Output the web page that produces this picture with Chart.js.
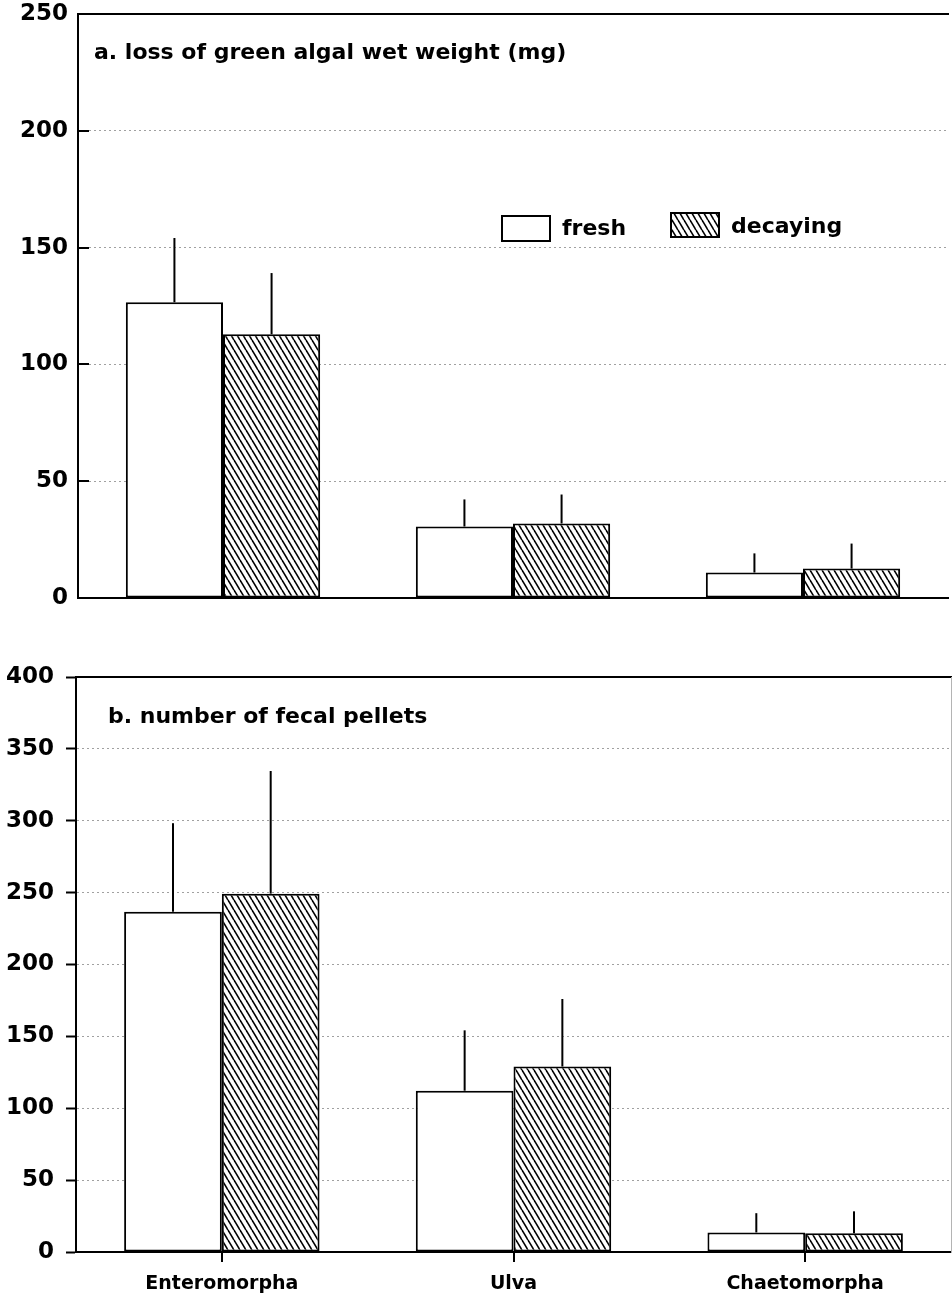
<!DOCTYPE html>
<html>
<head>
<meta charset="utf-8">
<title>Green algae: fresh vs decaying</title>
<script src="https://cdn.jsdelivr.net/npm/chart.js@4.4.0/dist/chart.umd.min.js"></script>
<style>
  html, body { margin: 0; padding: 0; background: #fff; }
  canvas { display: block; }
</style>
</head>
<body>
<canvas id="chartA" width="952" height="640"></canvas>
<canvas id="chartB" width="952" height="661"></canvas>
<script>
// === Data ===
const algae = ['Enteromorpha', 'Ulva', 'Chaetomorpha'];
const seriesNames = ['fresh', 'decaying'];

// a. loss of green algal wet weight (mg)
const weightFresh = [126.6, 30.6, 10.9];
const weightFreshErr = [27.5, 11.6, 8.2];
const weightDecay = [112.9, 31.9, 12.6];
const weightDecayErr = [26.2, 12.4, 10.7];
const weightTicks = [0, 50, 100, 150, 200, 250];

// b. number of fecal pellets
const pelletFresh = [236.7, 112.2, 13.6];
const pelletFreshErr = [61.6, 42, 13.4];
const pelletDecay = [249.3, 129, 13];
const pelletDecayErr = [85.3, 47, 15.3];
const pelletTicks = [0, 50, 100, 150, 200, 250, 300, 350, 400];

Chart.defaults.font.family = "'DejaVu Sans', sans-serif";
Chart.defaults.font.weight = 'bold';
Chart.defaults.color = '#000';

// === Hatch pattern for decaying bars ===
function makeHatch() {
  const c = document.createElement('canvas');
  c.width = 6;
  c.height = 10;
  const g = c.getContext('2d');
  g.fillStyle = '#fff';
  g.fillRect(0, 0, 6, 10);
  g.strokeStyle = '#000';
  g.lineWidth = 1.6;
  [-6, 0, 6].forEach(dx => {
    g.beginPath();
    g.moveTo(dx, 0);
    g.lineTo(dx + 6, 10);
    g.stroke();
  });
  return g.createPattern(c, 'repeat');
}
const hatch = makeHatch();

// === Error bars (upper only, no caps) ===
const errorBars = {
  id: 'errorBars',
  afterDatasetsDraw(chart) {
    const ctx = chart.ctx;
    const yScale = chart.scales.y;
    ctx.save();
    ctx.strokeStyle = '#000';
    ctx.lineWidth = 2;
    chart.data.datasets.forEach((ds, i) => {
      chart.getDatasetMeta(i).data.forEach((bar, j) => {
        const top = yScale.getPixelForValue(ds.data[j] + ds.errors[j]);
        ctx.beginPath();
        ctx.moveTo(bar.x, bar.y);
        ctx.lineTo(bar.x, top);
        ctx.stroke();
      });
    });
    ctx.restore();
  }
};

// === Panel label + optional legend ===
function panelText(label, dx, dy, withLegend, inwardTicks) {
  return {
    id: 'panelText',
    afterDraw(chart) {
      const ctx = chart.ctx;
      const area = chart.chartArea;
      ctx.save();
      ctx.fillStyle = '#000';
      ctx.font = "bold 22px 'DejaVu Sans', sans-serif";
      ctx.textBaseline = 'middle';
      ctx.textAlign = 'left';
      ctx.fillText(label, area.left + dx, area.top + dy);

      if (inwardTicks) {
        const yScale = chart.scales.y;
        ctx.strokeStyle = '#000';
        ctx.lineWidth = 2;
        yScale.ticks.forEach(t => {
          const y = Math.round(yScale.getPixelForValue(t.value));
          ctx.beginPath();
          ctx.moveTo(area.left, y);
          ctx.lineTo(area.left + 11, y);
          ctx.stroke();
        });
      }

      if (withLegend) {
        ctx.lineWidth = 2;
        ctx.strokeStyle = '#000';
        ctx.fillStyle = '#fff';
        ctx.fillRect(502, 216, 48, 25);
        ctx.strokeRect(502, 216, 48, 25);
        ctx.fillStyle = hatch;
        ctx.fillRect(671, 213, 48, 24);
        ctx.strokeRect(671, 213, 48, 24);
        ctx.fillStyle = '#000';
        ctx.fillText(seriesNames[0], 562, 229);
        ctx.fillText(seriesNames[1], 731, 227);
      }
      ctx.restore();
    }
  };
}

function makeDatasets(fresh, freshErr, decay, decayErr) {
  const common = {
    borderColor: '#000',
    borderWidth: 2,
    borderSkipped: false,
    categoryPercentage: 0.67,
    barPercentage: 1.0
  };
  return [
    Object.assign({ label: seriesNames[0], data: fresh, errors: freshErr, backgroundColor: '#fff' }, common),
    Object.assign({ label: seriesNames[1], data: decay, errors: decayErr, backgroundColor: hatch }, common)
  ];
}

// === Panel a ===
new Chart(document.getElementById('chartA'), {
  type: 'bar',
  data: {
    labels: algae,
    datasets: makeDatasets(weightFresh, weightFreshErr, weightDecay, weightDecayErr)
  },
  options: {
    responsive: false,
    animation: false,
    events: [],
    layout: { padding: { top: 14, bottom: 42, left: 0, right: 4 } },
    plugins: { legend: { display: false }, tooltip: { enabled: false } },
    scales: {
      x: {
        grid: { display: false, drawTicks: false },
        ticks: { display: false },
        border: { color: '#000', width: 2 },
        afterFit: s => { s.height = 0; }
      },
      xTop: {
        type: 'category',
        position: 'top',
        grid: { display: false, drawTicks: false },
        ticks: { display: false },
        border: { color: '#000', width: 2 },
        afterFit: s => { s.height = 0; }
      },
      y: {
        min: 0,
        max: 250,
        afterBuildTicks: s => { s.ticks = weightTicks.map(v => ({ value: v })); },
        ticks: { padding: 0, font: { size: 23, weight: 'bold' } },
        // outward marks are hidden; the inward ones are drawn by panelText
        grid: {
          color: '#a0a0a0', lineWidth: 1,
          drawTicks: true, tickLength: 10, tickColor: 'rgba(0,0,0,0)'
        },
        border: { color: '#000', width: 2, dash: [2, 3] },
        afterFit: s => { s.width = 78; }
      }
    }
  },
  plugins: [errorBars, panelText('a. loss of green algal wet weight (mg)', 16, 39, true, true)]
});

// === Panel b ===
new Chart(document.getElementById('chartB'), {
  type: 'bar',
  data: {
    labels: algae,
    datasets: makeDatasets(pelletFresh, pelletFreshErr, pelletDecay, pelletDecayErr)
  },
  options: {
    responsive: false,
    animation: false,
    events: [],
    layout: { padding: { top: 37, bottom: 0, left: 0, right: 1 } },
    plugins: { legend: { display: false }, tooltip: { enabled: false } },
    scales: {
      x: {
        grid: {
          display: true, drawOnChartArea: false, offset: false,
          drawTicks: true, tickLength: 10, color: '#000', lineWidth: 2
        },
        ticks: { padding: 11, font: { size: 19, weight: 'bold' } },
        border: { color: '#000', width: 2 },
        afterFit: s => { s.height = 49; }
      },
      xTop: {
        type: 'category',
        position: 'top',
        grid: { display: false, drawTicks: false },
        ticks: { display: false },
        border: { color: '#000', width: 2 },
        afterFit: s => { s.height = 0; }
      },
      y: {
        min: 0,
        max: 400,
        afterBuildTicks: s => { s.ticks = pelletTicks.map(v => ({ value: v })); },
        ticks: { padding: 12, font: { size: 23, weight: 'bold' } },
        grid: {
          color: '#a0a0a0', lineWidth: 1,
          drawTicks: true, tickLength: 10, tickColor: '#000', tickWidth: 2
        },
        border: { color: '#000', width: 2, dash: [2, 3] },
        afterFit: s => { s.width = 76; }
      },
      yRight: {
        type: 'linear',
        position: 'right',
        min: 0,
        max: 400,
        grid: { display: false, drawTicks: false },
        ticks: { display: false },
        border: { color: '#b4b4b4', width: 1 },
        afterFit: s => { s.width = 0; }
      }
    }
  },
  plugins: [errorBars, panelText('b. number of fecal pellets', 32, 40, false, false)]
});
</script>
</body>
</html>
